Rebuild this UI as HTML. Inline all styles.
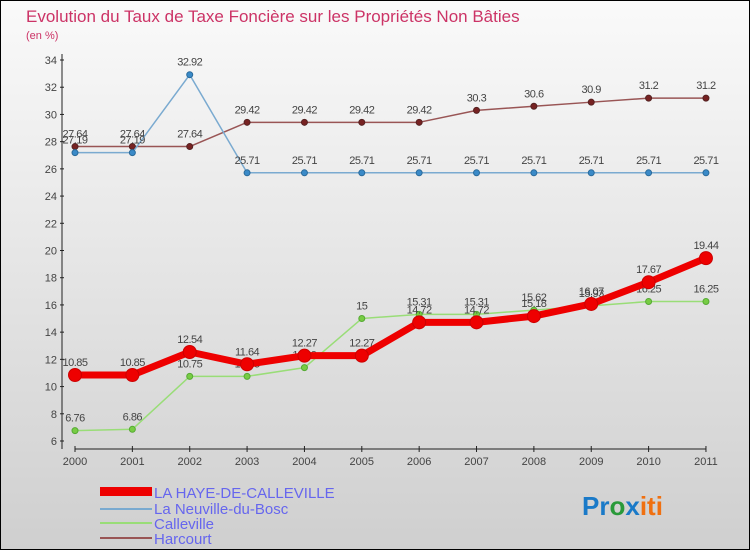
<!DOCTYPE html>
<html><head><meta charset="utf-8"><style>
body{margin:0;width:750px;height:550px;overflow:hidden;font-family:"Liberation Sans",sans-serif}
svg text{font-family:"Liberation Sans",sans-serif}
</style></head><body>
<svg id="c" width="750" height="550" xmlns="http://www.w3.org/2000/svg">
<defs><linearGradient id="bg" x1="0" y1="0" x2="0" y2="1"><stop offset="0" stop-color="#fafafa"/><stop offset="1" stop-color="#cfcfcf"/></linearGradient></defs>
<rect x="0.5" y="0.5" width="749" height="549" fill="url(#bg)" stroke="#000"/>
<text x="26" y="22" font-size="17" fill="#cc3366">Evolution du Taux de Taxe Foncière sur les Propriétés Non Bâties</text>
<text x="26" y="39" font-size="11" fill="#cc3366">(en %)</text>
<g id="axes"></g><g id="series"></g>
<g>
<rect x="100" y="487" width="52" height="9" fill="#e00"/>
<text x="154" y="498" font-size="15" fill="#6666ee">LA HAYE-DE-CALLEVILLE</text>
<rect x="100" y="508" width="52" height="2" fill="#7aaad0"/>
<text x="154" y="514" font-size="15" fill="#6666ee">La Neuville-du-Bosc</text>
<rect x="100" y="522" width="52" height="2" fill="#99dd77"/>
<text x="154" y="529" font-size="15" fill="#6666ee">Calleville</text>
<rect x="100" y="537" width="52" height="2" fill="#995555"/>
<text x="154" y="544" font-size="15" fill="#6666ee">Harcourt</text>
</g>
<text x="582" y="515" font-size="26" font-weight="bold"><tspan fill="#1a7ac8">Pr</tspan><tspan fill="#2a9a3a">o</tspan><tspan fill="#1a7ac8">x</tspan><tspan fill="#f07010">iti</tspan></text>
</svg>
<script>
const years=["2000","2001","2002","2003","2004","2005","2006","2007","2008","2009","2010","2011"];
const yTicks=[6,8,10,12,14,16,18,20,22,24,26,28,30,32,34];
const haye=[10.85,10.85,12.54,11.64,12.27,12.27,14.72,14.72,15.18,16.07,17.67,19.44];
const neuville=[27.19,27.19,32.92,25.71,25.71,25.71,25.71,25.71,25.71,25.71,25.71,25.71];
const calleville=[6.76,6.86,10.75,10.75,11.39,15,15.31,15.31,15.62,15.93,16.25,16.25];
const harcourt=[27.64,27.64,27.64,29.42,29.42,29.42,29.42,30.3,30.6,30.9,31.2,31.2];
const NS="http://www.w3.org/2000/svg";
const X=i=>75+i*57.36, Y=v=>441-(v-6)*13.607;
function mk(t,a,p){const e=document.createElementNS(NS,t);for(const k in a)e.setAttribute(k,a[k]);p.appendChild(e);return e;}
const ax=document.getElementById('axes'),sg=document.getElementById('series');
let l=mk('line',{x1:62,y1:54,x2:62,y2:449,stroke:'#222'},ax);


l=mk('line',{x1:75,y1:449,x2:706,y2:449,stroke:'#222'},ax);


yTicks.forEach(v=>{
 const t=mk('text',{x:57,y:Y(v)+4,'font-size':11,fill:'#444','text-anchor':'end'},ax);t.textContent=v;
 
 
 const m=mk('line',{x1:60,x2:64,y1:Y(v),y2:Y(v),stroke:'#222'},ax);
 
 
});
years.forEach((y,i)=>{
 const t=mk('text',{x:X(i),y:465,'font-size':11,fill:'#444','text-anchor':'middle'},ax);t.textContent=y;
 
 
 const m=mk('line',{x1:X(i),x2:X(i),y1:446,y2:452,stroke:'#222'},ax);
 
 
});
function series(d,name,col,w,r,dot,dotStroke){
 const g=mk('g',{},sg);
 
 
 const pl=mk('polyline',{points:d.map((v,i)=>X(i)+','+Y(v)).join(' '),fill:'none',stroke:col,'stroke-width':w,'stroke-linejoin':'round'},g);
 
 
 d.forEach((v,i)=>{
  const c=mk('circle',{cx:X(i),cy:Y(v),r:r,fill:dot,stroke:dotStroke,'stroke-width':1},g);
  
  
  const t=mk('text',{x:X(i),y:Y(v)-9,'font-size':11,fill:'#444','text-anchor':'middle','letter-spacing':'-0.5'},g);t.textContent=v;
  
  
 });
}
series(harcourt,'harcourt','#995555',1.5,3,'#772222','#552222');
series(neuville,'neuville','#7aaad0',1.5,3,'#3a8ac8','#2a6a9a');
series(calleville,'calleville','#99dd77',1.5,3,'#77cc44','#55aa33');
series(haye,'la-haye','#ee0000',7,6.5,'#ee0000','#cc0000');
</script>
</body></html>
